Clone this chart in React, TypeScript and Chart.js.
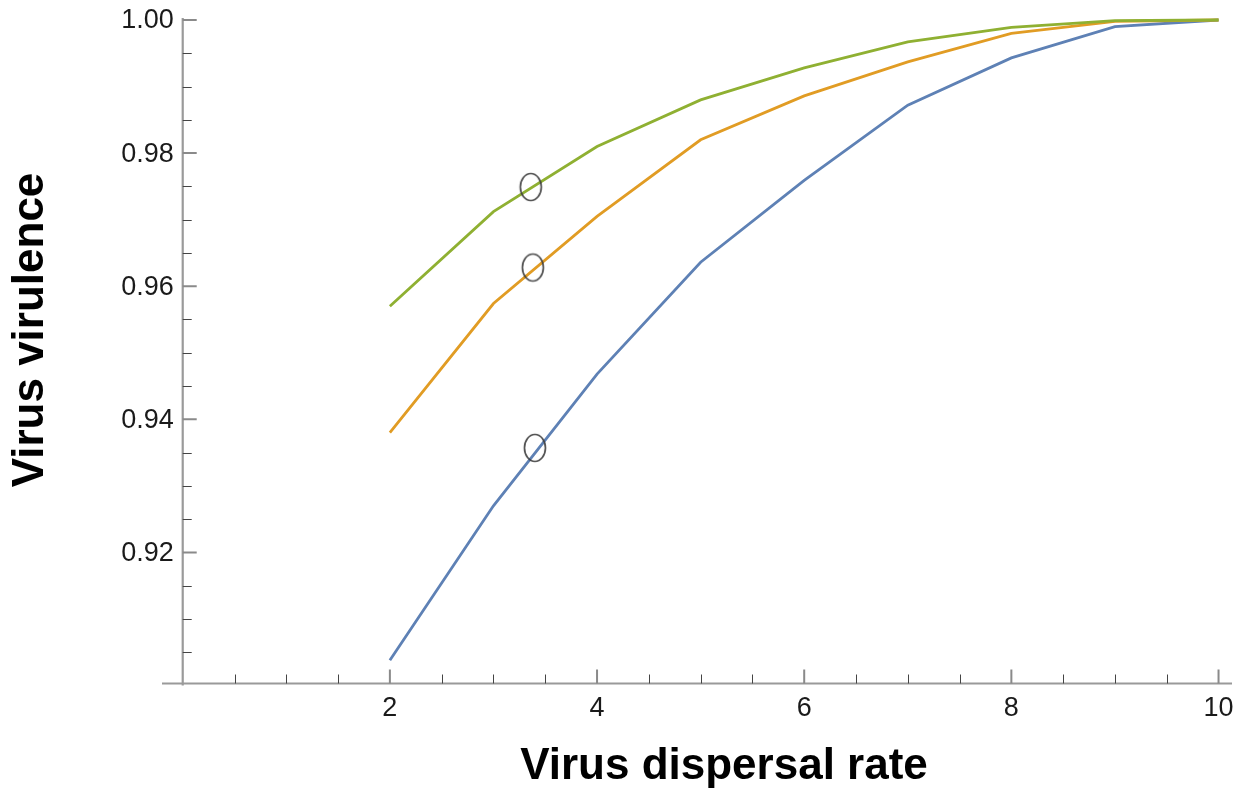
import React, { useEffect, useRef } from "react";
import { Chart, registerables } from "chart.js";

Chart.register(...registerables);

// ---- data ----
const dispersalRates = [2, 3, 4, 5, 6, 7, 8, 9, 10];
const virulenceBlue = [0.9038, 0.927, 0.9468, 0.9636, 0.9759, 0.9872, 0.9943, 0.999, 1.0];
const virulenceOrange = [0.938, 0.9574, 0.9705, 0.982, 0.9886, 0.9937, 0.998, 0.9998, 1.0];
const virulenceGreen = [0.957, 0.9712, 0.981, 0.988, 0.9928, 0.9967, 0.9989, 0.9999, 1.0];
const markerX = [3.36, 3.38, 3.4];
const markerY = [0.9749, 0.9628, 0.9357];

const xMajorTicks = [2, 4, 6, 8, 10];
const xTickLabels = ["2", "4", "6", "8", "10"];
const xMinorTicks = [0.5, 1, 1.5, 2.5, 3, 3.5, 4.5, 5, 5.5, 6.5, 7, 7.5, 8.5, 9, 9.5];
const yMajorTicks = [0.92, 0.94, 0.96, 0.98, 1.0];
const yTickLabels = ["0.92", "0.94", "0.96", "0.98", "1.00"];
const yMinorTicks = [
  0.905, 0.91, 0.915, 0.925, 0.93, 0.935, 0.945, 0.95, 0.955, 0.965, 0.97, 0.975,
  0.985, 0.99, 0.995,
];

const xTitle = "Virus dispersal rate";
const yTitle = "Virus virulence";

const BLUE = "#5E81B5";
const ORANGE = "#E19C24";
const GREEN = "#8FB032";

function makeEllipse(): HTMLCanvasElement {
  const c = document.createElement("canvas");
  c.width = 26;
  c.height = 32;
  const g = c.getContext("2d")!;
  g.strokeStyle = "rgba(60,60,60,0.9)";
  g.lineWidth = 1.7;
  g.beginPath();
  g.ellipse(13, 16, 10.5, 13.5, 0, 0, Math.PI * 2);
  g.stroke();
  return c;
}

const axesPlugin = {
  id: "mmaAxes",
  beforeDatasetsDraw(chart: any) {
    const ctx = chart.ctx as CanvasRenderingContext2D;
    const xs = chart.scales.x;
    const ys = chart.scales.y;
    const x0 = xs.getPixelForValue(0);
    const y0 = ys.bottom;
    ctx.save();
    // axis lines
    ctx.strokeStyle = "#9a9a9a";
    ctx.lineWidth = 2.2;
    ctx.beginPath();
    ctx.moveTo(xs.left, y0);
    ctx.lineTo(xs.right, y0);
    ctx.moveTo(x0, ys.top);
    ctx.lineTo(x0, y0 + 2);
    ctx.stroke();

    // minor ticks
    ctx.strokeStyle = "#444";
    ctx.lineWidth = 1;
    ctx.beginPath();
    xMinorTicks.forEach((v) => {
      const px = Math.round(xs.getPixelForValue(v)) + 0.5;
      ctx.moveTo(px, y0);
      ctx.lineTo(px, y0 - 9);
    });
    yMinorTicks.forEach((v) => {
      const py = Math.round(ys.getPixelForValue(v)) + 0.5;
      ctx.moveTo(x0, py);
      ctx.lineTo(x0 + 9, py);
    });
    ctx.stroke();

    // major ticks
    ctx.strokeStyle = "#8a8a8a";
    ctx.lineWidth = 2;
    ctx.beginPath();
    xMajorTicks.forEach((v) => {
      const px = xs.getPixelForValue(v);
      ctx.moveTo(px, y0);
      ctx.lineTo(px, y0 - 14);
    });
    yMajorTicks.forEach((v) => {
      const py = ys.getPixelForValue(v);
      ctx.moveTo(x0, py);
      ctx.lineTo(x0 + 14, py);
    });
    ctx.stroke();

    // tick labels
    ctx.fillStyle = "#1a1a1a";
    ctx.font = '27px "Liberation Sans", Arial, sans-serif';
    ctx.textAlign = "center";
    ctx.textBaseline = "middle";
    xMajorTicks.forEach((v, i) => {
      ctx.fillText(xTickLabels[i], xs.getPixelForValue(v), y0 + 25);
    });
    ctx.textAlign = "right";
    yMajorTicks.forEach((v, i) => {
      ctx.fillText(yTickLabels[i], x0 - 9, ys.getPixelForValue(v) + 1);
    });

    // axis titles
    ctx.fillStyle = "#000";
    ctx.font = 'bold 44px "Liberation Sans", Arial, sans-serif';
    ctx.textAlign = "center";
    ctx.textBaseline = "alphabetic";
    ctx.fillText(xTitle, 724, 779);
    ctx.translate(43, 330);
    ctx.rotate(-Math.PI / 2);
    ctx.fillText(yTitle, 0, 0);
    ctx.restore();
  },
};

export default function App() {
  const ref = useRef<HTMLCanvasElement | null>(null);
  useEffect(() => {
    document.body.style.margin = "0";
    const canvas = ref.current!;
    const toXY = (ys: number[]) => dispersalRates.map((x, i) => ({ x, y: ys[i] }));
    const chart = new Chart(canvas, {
      type: "line",
      data: {
        datasets: [
          {
            label: "markers",
            data: markerX.map((x, i) => ({ x, y: markerY[i] })),
            showLine: false,
            pointStyle: makeEllipse() as any,
            pointRadius: 12,
            borderColor: "#555",
            backgroundColor: "transparent",
          },
          {
            label: "green",
            data: toXY(virulenceGreen),
            borderColor: GREEN,
            borderWidth: 2.8,
            pointRadius: 0,
            tension: 0,
            fill: false,
          },
          {
            label: "orange",
            data: toXY(virulenceOrange),
            borderColor: ORANGE,
            borderWidth: 2.8,
            pointRadius: 0,
            tension: 0,
            fill: false,
          },
          {
            label: "blue",
            data: toXY(virulenceBlue),
            borderColor: BLUE,
            borderWidth: 2.8,
            pointRadius: 0,
            tension: 0,
            fill: false,
          },
        ],
      },
      options: {
        animation: false,
        responsive: false,
        devicePixelRatio: 1,
        layout: { autoPadding: false, padding: { left: 162, right: 6, top: 18, bottom: 112.5 } },
        plugins: { legend: { display: false }, tooltip: { enabled: false } },
        events: [],
        scales: {
          x: { type: "linear", min: -0.2, max: 10.13, display: false },
          y: { type: "linear", min: 0.9003, max: 1.0003, display: false },
        },
      },
      plugins: [axesPlugin],
    });
    return () => chart.destroy();
  }, []);
  return (
    <div style={{ width: 1238, height: 796, background: "#fff" }}>
      <canvas ref={ref} width={1238} height={796} style={{ display: "block" }} />
    </div>
  );
}
